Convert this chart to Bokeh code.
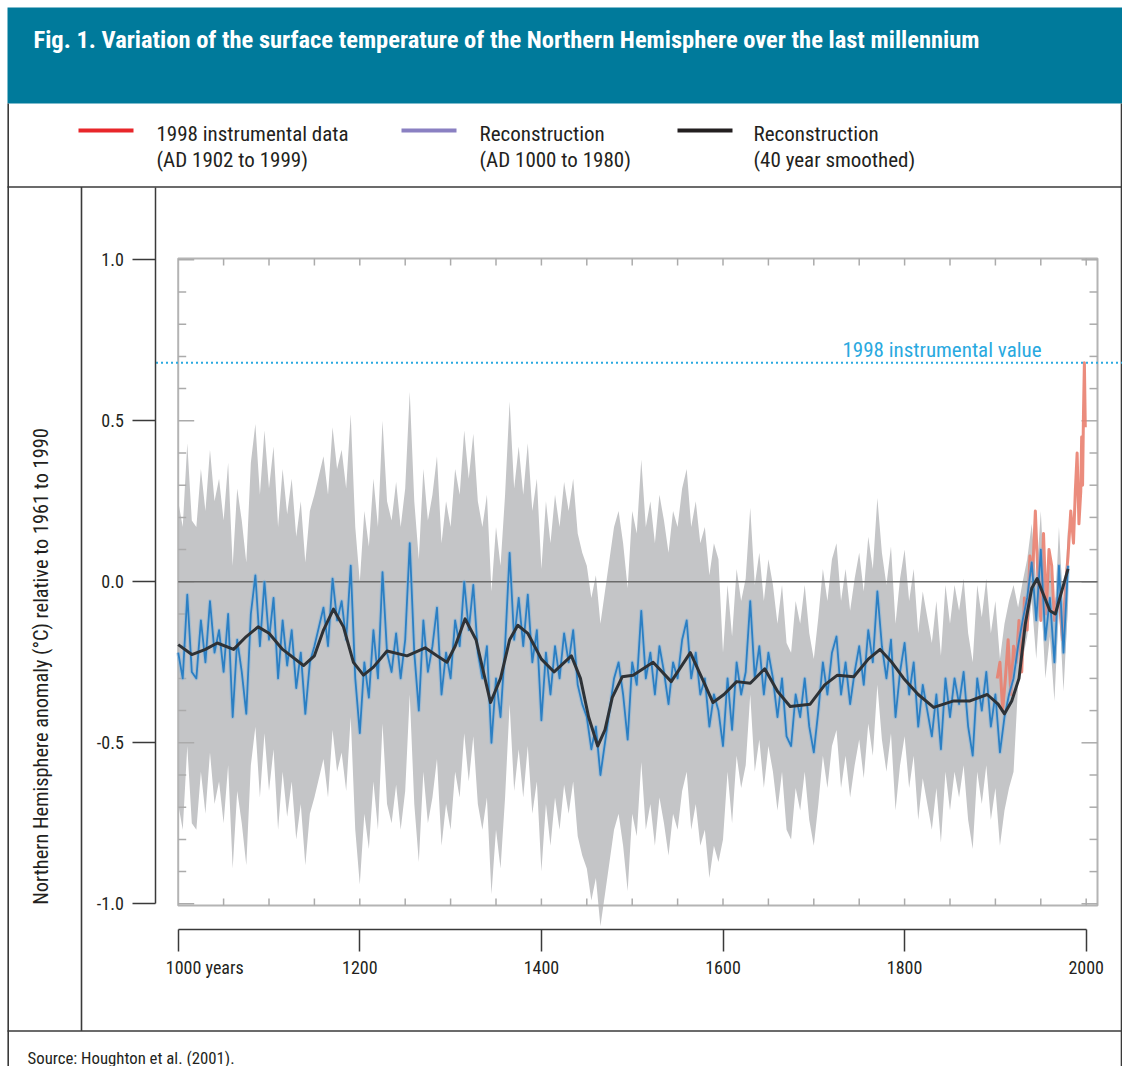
import numpy as np
from bokeh.plotting import figure
from bokeh.models import LinearAxis, FixedTicker, NumeralTickFormatter
from bokeh.core.properties import value
from bokeh.embed import file_html
from bokeh.resources import INLINE

# ---------------- data ----------------
recon_years = list(range(1000, 1981, 5))
recon_values = [
    -0.22, -0.30, -0.04, -0.28, -0.30, -0.12, -0.25, -0.06, -0.22, -0.15,
    -0.28, -0.10, -0.42, -0.18, -0.28, -0.41, -0.10, 0.02, -0.20, 0.00,
    -0.18, -0.05, -0.30, -0.12, -0.26, -0.15, -0.33, -0.22, -0.41, -0.25,
    -0.20, -0.14, -0.08, -0.20, 0.01, -0.12, -0.06, -0.18, 0.05, -0.30,
    -0.47, -0.25, -0.36, -0.15, -0.30, 0.03, -0.22, -0.28, -0.16, -0.30,
    -0.18, 0.12, -0.22, -0.40, -0.12, -0.28, -0.20, -0.08, -0.35, -0.22,
    -0.30, -0.12, -0.20, 0.00, -0.15, -0.01, -0.22, -0.30, -0.20, -0.50,
    -0.30, -0.42, -0.20, 0.09, -0.18, -0.05, -0.20, -0.04, -0.25, -0.15,
    -0.43, -0.22, -0.35, -0.20, -0.30, -0.16, -0.25, -0.15, -0.32, -0.38,
    -0.42, -0.52, -0.45, -0.60, -0.50, -0.40, -0.30, -0.25, -0.35, -0.49,
    -0.25, -0.32, -0.09, -0.30, -0.22, -0.35, -0.20, -0.28, -0.38, -0.25,
    -0.30, -0.18, -0.12, -0.30, -0.22, -0.35, -0.30, -0.45, -0.35, -0.40,
    -0.51, -0.30, -0.46, -0.25, -0.35, -0.28, -0.06, -0.30, -0.20, -0.35,
    -0.22, -0.30, -0.42, -0.30, -0.48, -0.51, -0.35, -0.42, -0.30, -0.45,
    -0.53, -0.40, -0.25, -0.35, -0.22, -0.17, -0.35, -0.25, -0.38, -0.28,
    -0.20, -0.32, -0.15, -0.25, -0.03, -0.20, -0.30, -0.18, -0.42, -0.28,
    -0.19, -0.35, -0.25, -0.45, -0.32, -0.40, -0.48, -0.35, -0.52, -0.30,
    -0.42, -0.30, -0.38, -0.28, -0.45, -0.54, -0.30, -0.40, -0.28, -0.45,
    -0.35, -0.53, -0.42, -0.35, -0.30, -0.20, -0.12, -0.05, 0.06, -0.12,
    0.10, -0.18, -0.05, -0.25, 0.05, -0.22, 0.05,
]
# two-sigma half width of the grey uncertainty band, by period
sigma_period_start = [1000, 1600, 1925]
sigma_two = [0.47, 0.29, 0.12]

smooth_years = [1000, 1015, 1030, 1043, 1061, 1075, 1088, 1100, 1115, 1138,
                1150, 1160, 1171, 1182, 1193, 1204, 1215, 1230, 1252, 1272,
                1285, 1296, 1305, 1316, 1328, 1344, 1355, 1365, 1374, 1385,
                1400, 1414, 1433, 1443, 1452, 1462, 1470, 1478, 1489, 1501,
                1523, 1543, 1564, 1577, 1589, 1601, 1615, 1630, 1646, 1660,
                1674, 1696, 1712, 1726, 1744, 1760, 1773, 1786, 1799, 1815,
                1832, 1854, 1872, 1891, 1903, 1910, 1918, 1926, 1933, 1940,
                1946, 1953, 1960, 1966, 1973, 1980]
smooth_values = [-0.195, -0.226, -0.21, -0.19, -0.21, -0.17, -0.14, -0.16, -0.21, -0.26,
                 -0.23, -0.15, -0.085, -0.14, -0.25, -0.29, -0.265, -0.215, -0.23, -0.205,
                 -0.23, -0.25, -0.20, -0.115, -0.18, -0.375, -0.30, -0.18, -0.135, -0.16,
                 -0.24, -0.28, -0.23, -0.30, -0.42, -0.51, -0.46, -0.36, -0.295, -0.29,
                 -0.25, -0.31, -0.22, -0.30, -0.375, -0.35, -0.31, -0.315, -0.27, -0.34,
                 -0.387, -0.38, -0.32, -0.29, -0.295, -0.24, -0.21, -0.25, -0.30, -0.35,
                 -0.39, -0.37, -0.37, -0.35, -0.38, -0.41, -0.37, -0.30, -0.13, -0.02,
                 0.01, -0.04, -0.09, -0.10, -0.03, 0.04]

instr_years = [1902, 1905, 1908, 1911, 1914, 1917, 1920, 1923, 1926, 1929,
               1932, 1935, 1938, 1941, 1944, 1947, 1950, 1953, 1956, 1959,
               1962, 1965, 1968, 1971, 1974, 1977, 1980, 1983, 1986, 1988,
               1990, 1992, 1994, 1995, 1996, 1997, 1998, 1999]
instr_values = [-0.30, -0.25, -0.40, -0.30, -0.18, -0.35, -0.20, -0.25, -0.12, -0.28,
                -0.05, -0.15, 0.08, 0.02, 0.22, 0.00, -0.12, 0.15, -0.10, 0.10,
                0.05, -0.12, -0.05, -0.08, -0.18, -0.02, 0.08, 0.22, 0.12, 0.28,
                0.40, 0.18, 0.28, 0.45, 0.30, 0.52, 0.68, 0.48]
value_1998 = 0.68

y_ticks = [-1.0, -0.5, 0.0, 0.5, 1.0]
x_ticks = [1000, 1200, 1400, 1600, 1800, 2000]
x_tick_labels = ["1000 years", "1200", "1400", "1600", "1800", "2000"]

title_text = ("Fig. 1. Variation of the surface temperature of the Northern "
              "Hemisphere over the last millennium")
legend_main = ["1998 instrumental data", "Reconstruction", "Reconstruction"]
legend_sub = ["(AD 1902 to 1999)", "(AD 1000 to 1980)", "(40 year smoothed)"]
legend_colors = ["#e8262a", "#8a80c2", "#231f20"]
y_label = "Northern Hemisphere anomaly (\u00b0C) relative to 1961 to 1990"
source_text = "Source: Houghton et al. (2001)."

FONT = "Roboto Condensed"

# ---------------- layout helpers (page pixel -> data) ----------------
W, H = 1122, 1066
X0, XS = 177.7, 0.908     # page x of year 1000, px per year
Y0, YS = 581.3, 322.0     # page y of 0.0, px per degree


def fx(px):
    return 1000 + (px - X0) / XS


def fy(py):
    return (Y0 - py) / YS


TXT = "#231f20"
LINE = "#3a3a3a"

p = figure(width=W, height=H, x_range=(fx(0), fx(W)), y_range=(fy(H), fy(0)),
           x_axis_type=None, y_axis_type=None, toolbar_location=None,
           output_backend="svg", min_border=0)
p.outline_line_color = None
p.background_fill_color = "white"
p.border_fill_color = "white"

# header band
p.quad(left=fx(7), right=fx(W), top=fy(7), bottom=fy(103), fill_color="#007a9b", line_color=None)
p.text(x=[fx(33)], y=[fy(39)], text=[title_text], text_font=value(FONT), text_font_style="bold",
       text_font_size="24.5px", text_color="white", text_baseline="middle", text_align="left")

# frame lines
p.segment(x0=[fx(7.7), fx(7), fx(81), fx(7), fx(1121)],
          y0=[fy(103), fy(186.5), fy(186.5), fy(1030.5), fy(103)],
          x1=[fx(7.7), fx(1121), fx(81), fx(1121), fx(1121)],
          y1=[fy(H), fy(186.5), fy(1030.5), fy(1030.5), fy(H)],
          line_color=LINE, line_width=1.6)

# legend
sw_left = [78, 401, 677]
txt_left = [156, 479, 753]
p.segment(x0=[fx(v) for v in sw_left], x1=[fx(v + 55) for v in sw_left], y0=[fy(130)] * 3, y1=[fy(130)] * 3,
          line_color=legend_colors, line_width=4)
p.text(x=[fx(v) for v in txt_left], y=[fy(133)] * 3, text=legend_main, text_font=value(FONT),
       text_font_size="21px", text_color=TXT, text_baseline="middle")
p.text(x=[fx(v) for v in txt_left], y=[fy(159)] * 3, text=legend_sub, text_font=value(FONT),
       text_font_size="21px", text_color=TXT, text_baseline="middle")

# uncertainty band
rx = np.array(recon_years, dtype=float)
rv = np.array(recon_values, dtype=float)
idx = np.searchsorted(np.array(sigma_period_start), rx, side="right") - 1
half = np.array(sigma_two)[idx]
p.varea(x=rx, y1=rv - half, y2=rv + half, fill_color="#c4c5c7")

# inner frame with ticks
box_r, box_t, box_b = fx(1097), fy(258), fy(905)
p.quad(left=1000, right=box_r, top=box_t, bottom=box_b, fill_color=None, line_color="#b4b4b4", line_width=2)
vt = np.round(np.arange(-10, 11) * 0.1, 2)
major = np.isclose(np.abs(vt * 2 - np.round(vt * 2)), 0)
vlen = np.where(major, 16, 8) / XS
p.segment(x0=np.full(vt.size, 1000.0), x1=1000 + vlen, y0=vt, y1=vt, line_color="#ababab", line_width=1.5)
p.segment(x0=np.full(vt.size, box_r), x1=box_r - vlen, y0=vt, y1=vt, line_color="#ababab", line_width=1.5)
xt = np.arange(1050, 2001, 50).astype(float)
p.segment(x0=xt, x1=xt, y0=np.full(xt.size, box_t), y1=np.full(xt.size, box_t - 7 / YS),
          line_color="#ababab", line_width=1.5)
p.segment(x0=xt, x1=xt, y0=np.full(xt.size, box_b), y1=np.full(xt.size, box_b + 7 / YS),
          line_color="#ababab", line_width=1.5)

# zero line
p.segment(x0=[1000], x1=[box_r], y0=[0], y1=[0], line_color="#6b6b6b", line_width=1.5)

# series
p.line(instr_years, instr_values, line_color="#e9806f", line_width=3, line_alpha=0.9, line_join="round")
p.line(recon_years, recon_values, line_color="#7fb2de", line_width=4, line_alpha=0.45, line_join="round")
p.line(recon_years, recon_values, line_color="#2b7fc3", line_width=1.8, line_join="round")
p.line(smooth_years, smooth_values, line_color="#2e3236", line_width=3, line_join="round")

# 1998 instrumental value
p.line([fx(155.5), fx(W)], [value_1998, value_1998], line_color="#29a9e0", line_width=2,
       line_dash="2 3")
p.text(x=[fx(1041)], y=[value_1998 + 13 / YS], text=["1998 instrumental value"], text_font=value(FONT),
       text_font_size="21px", text_color="#29a9e0", text_baseline="middle", text_align="right")

# axes
yaxis = LinearAxis(fixed_location=fx(155.3), ticker=FixedTicker(ticks=y_ticks),
                   formatter=NumeralTickFormatter(format="0.0"), bounds=(-1.0, fy(187)))
xaxis = LinearAxis(fixed_location=fy(928.5), ticker=FixedTicker(ticks=x_ticks), bounds=(1000, 2000))
pad = "\u2007" * 6
xaxis.major_label_overrides = {t: (pad + l if i == 0 else l) for i, (t, l) in enumerate(zip(x_ticks, x_tick_labels))}
for ax in (yaxis, xaxis):
    ax.axis_line_color = LINE
    ax.axis_line_width = 1.5
    ax.major_tick_line_color = LINE
    ax.major_tick_line_width = 1.5
    ax.major_tick_in = 0
    ax.minor_tick_in = 0
    ax.minor_tick_out = 0
    ax.major_label_text_font = FONT
    ax.major_label_text_font_size = "18px"
    ax.major_label_text_color = TXT
yaxis.major_tick_out = 23
yaxis.major_label_standoff = 9
xaxis.major_tick_out = 22
xaxis.major_label_standoff = 6
p.add_layout(yaxis, "left")
p.add_layout(xaxis, "below")

p.text(x=[fx(40)], y=[fy(666)], text=[y_label], angle=np.pi / 2, text_font=value(FONT),
       text_font_size="20.4px", text_color=TXT, text_baseline="middle", text_align="center")

p.text(x=[fx(27)], y=[fy(1057)], text=[source_text], text_font=value(FONT),
       text_font_size="16.8px", text_color=TXT, text_baseline="middle")

open("out.html", "w").write(file_html(p, INLINE))
